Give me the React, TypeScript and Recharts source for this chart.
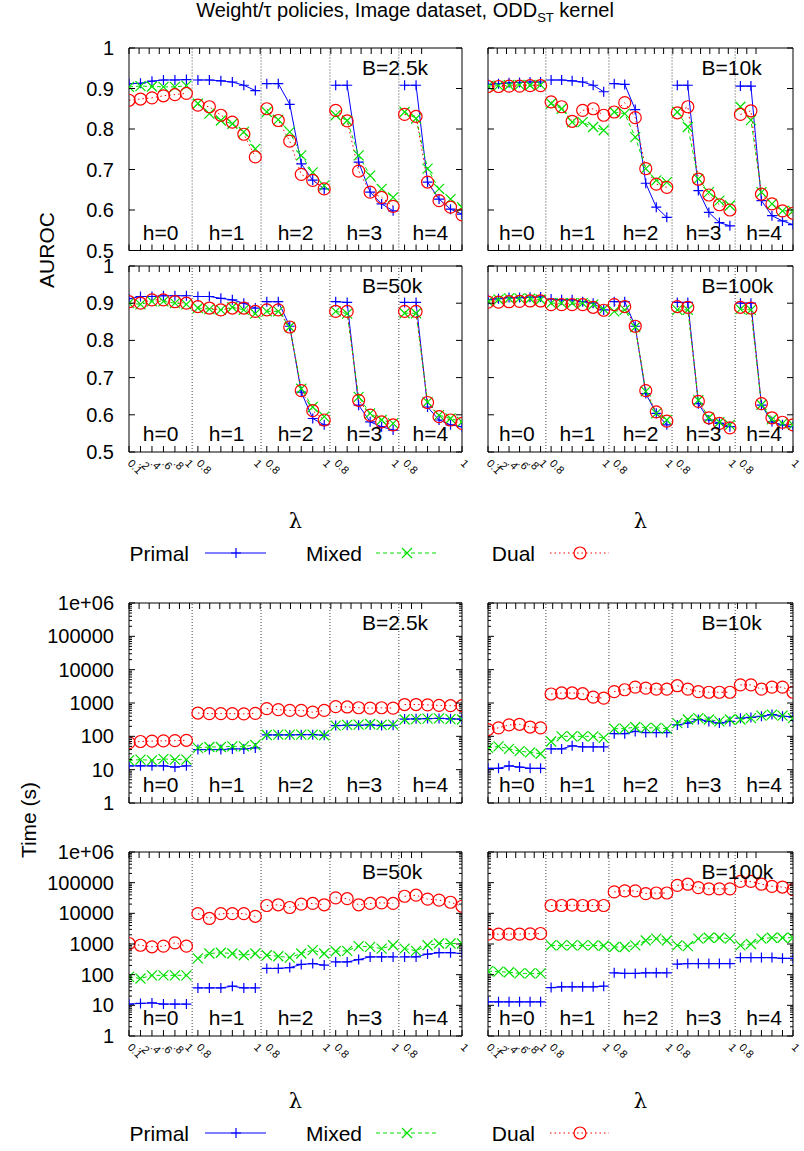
import { LineChart, Line, XAxis, YAxis, ReferenceLine, ReferenceArea } from 'recharts'

const FONT = '"Liberation Sans", Arial, Helvetica, sans-serif'

const groups = ['h=0', 'h=1', 'h=2', 'h=3', 'h=4']
const lambdaLabels = [
  '0.1', '.2', '.4', '.6', '.8', '1',
  '0.8', '', '', '', '', '1',
  '0.8', '', '', '', '', '1',
  '0.8', '', '', '', '', '1',
  '0.8', '', '', '', '', '1',
]
const aurocTicks = [0.5, 0.6, 0.7, 0.8, 0.9, 1]
const timeTicks = [1, 10, 100, 1000, 10000, 100000, 1000000]
const timeTickLabels = ['1', '10', '100', '1000', '10000', '100000', '1e+06']

// AUROC, B=2.5k
const auc2k5Primal = [0.912, 0.913, 0.918, 0.921, 0.921, 0.922, 0.921, 0.921, 0.919, 0.916, 0.908, 0.895, 0.912, 0.912, 0.861, 0.714, 0.674, 0.652, 0.908, 0.908, 0.718, 0.644, 0.615, 0.598, 0.908, 0.908, 0.669, 0.627, 0.602, 0.59]
const auc2k5Mixed = [0.904, 0.906, 0.905, 0.904, 0.904, 0.907, 0.863, 0.838, 0.821, 0.813, 0.793, 0.751, 0.842, 0.823, 0.793, 0.735, 0.693, 0.66, 0.834, 0.821, 0.735, 0.685, 0.652, 0.631, 0.842, 0.826, 0.702, 0.652, 0.627, 0.607]
const auc2k5Dual = [0.871, 0.874, 0.877, 0.882, 0.885, 0.888, 0.859, 0.855, 0.834, 0.817, 0.787, 0.731, 0.85, 0.821, 0.77, 0.688, 0.673, 0.652, 0.846, 0.82, 0.696, 0.644, 0.631, 0.609, 0.836, 0.831, 0.669, 0.623, 0.607, 0.588]
// AUROC, B=10k
const auc10kPrimal = [0.91, 0.912, 0.914, 0.915, 0.916, 0.916, 0.921, 0.921, 0.919, 0.916, 0.908, 0.892, 0.912, 0.91, 0.848, 0.666, 0.607, 0.582, 0.908, 0.908, 0.648, 0.594, 0.569, 0.561, 0.906, 0.906, 0.623, 0.586, 0.573, 0.564]
const auc10kMixed = [0.906, 0.907, 0.908, 0.909, 0.908, 0.909, 0.863, 0.85, 0.817, 0.817, 0.805, 0.797, 0.842, 0.838, 0.78, 0.702, 0.673, 0.669, 0.842, 0.805, 0.677, 0.644, 0.623, 0.611, 0.855, 0.822, 0.644, 0.615, 0.598, 0.598]
const auc10kDual = [0.905, 0.905, 0.906, 0.906, 0.907, 0.907, 0.867, 0.855, 0.819, 0.846, 0.85, 0.834, 0.842, 0.865, 0.828, 0.702, 0.664, 0.656, 0.84, 0.855, 0.676, 0.637, 0.613, 0.6, 0.836, 0.845, 0.639, 0.615, 0.598, 0.592]
// AUROC, B=50k
const auc50kPrimal = [0.912, 0.918, 0.918, 0.92, 0.92, 0.92, 0.918, 0.918, 0.913, 0.909, 0.9, 0.887, 0.904, 0.904, 0.838, 0.661, 0.59, 0.573, 0.904, 0.902, 0.626, 0.581, 0.568, 0.559, 0.902, 0.902, 0.621, 0.586, 0.573, 0.568]
const auc50kMixed = [0.9, 0.897, 0.905, 0.905, 0.9, 0.897, 0.887, 0.884, 0.882, 0.889, 0.882, 0.872, 0.878, 0.878, 0.836, 0.67, 0.621, 0.595, 0.878, 0.872, 0.648, 0.604, 0.586, 0.577, 0.873, 0.873, 0.634, 0.599, 0.59, 0.581]
const auc50kDual = [0.904, 0.9, 0.909, 0.909, 0.904, 0.9, 0.891, 0.887, 0.882, 0.887, 0.887, 0.878, 0.882, 0.882, 0.836, 0.665, 0.611, 0.586, 0.878, 0.878, 0.639, 0.599, 0.581, 0.573, 0.878, 0.878, 0.633, 0.595, 0.586, 0.577]
// AUROC, B=100k
const auc100kPrimal = [0.91, 0.912, 0.915, 0.915, 0.916, 0.917, 0.911, 0.909, 0.909, 0.904, 0.9, 0.882, 0.904, 0.904, 0.838, 0.657, 0.604, 0.573, 0.902, 0.902, 0.63, 0.586, 0.577, 0.568, 0.9, 0.9, 0.626, 0.581, 0.573, 0.568]
const auc100kMixed = [0.905, 0.91, 0.913, 0.913, 0.912, 0.91, 0.9, 0.9, 0.9, 0.9, 0.896, 0.884, 0.878, 0.882, 0.836, 0.663, 0.604, 0.586, 0.882, 0.882, 0.639, 0.592, 0.58, 0.573, 0.884, 0.882, 0.627, 0.588, 0.577, 0.573]
const auc100kDual = [0.903, 0.903, 0.904, 0.905, 0.906, 0.906, 0.896, 0.896, 0.896, 0.896, 0.889, 0.881, 0.896, 0.891, 0.838, 0.665, 0.608, 0.583, 0.891, 0.889, 0.636, 0.592, 0.577, 0.565, 0.889, 0.887, 0.63, 0.592, 0.58, 0.573]

// Time (s), B=2.5k
const time2k5Primal = [13, 13, 13, 13, 12, 13, 40, 40, 40, 42, 42, 45, 110, 110, 110, 112, 112, 108, 210, 215, 215, 220, 210, 215, 330, 335, 340, 345, 335, 330]
const time2k5Mixed = [19, 20, 19, 21, 20, 20, 45, 48, 48, 50, 50, 55, 110, 112, 112, 112, 112, 108, 210, 220, 225, 235, 220, 225, 320, 330, 340, 345, 330, 320]
const time2k5Dual = [65, 70, 72, 73, 74, 76, 500, 480, 480, 480, 470, 490, 680, 630, 600, 600, 530, 600, 780, 760, 720, 700, 720, 700, 900, 900, 880, 850, 830, 830]
// Time (s), B=10k
const time10kPrimal = [11, 11, 13, 12, 11, 11, 42, 42, 52, 48, 48, 48, 120, 120, 140, 130, 130, 130, 220, 250, 320, 280, 250, 280, 350, 370, 400, 450, 400, 380]
const time10kMixed = [45, 50, 42, 36, 33, 30, 70, 100, 100, 100, 100, 90, 170, 170, 190, 180, 180, 170, 250, 320, 350, 320, 280, 320, 320, 350, 420, 450, 420, 350]
const time10kDual = [160, 180, 220, 230, 190, 180, 1860, 2000, 2000, 1900, 1500, 1400, 2200, 2500, 3000, 2800, 2600, 2600, 3300, 2600, 2200, 2100, 2100, 2100, 3500, 3500, 2600, 3000, 3000, 2100]
// Time (s), B=50k
const time50kPrimal = [11, 11.5, 12, 11, 11, 11, 37, 37, 37, 42, 37, 37, 160, 160, 170, 215, 230, 205, 260, 260, 310, 380, 380, 380, 380, 380, 470, 520, 520, 490]
const time50kMixed = [85, 75, 95, 95, 95, 95, 340, 490, 520, 490, 430, 490, 430, 400, 360, 490, 630, 490, 580, 600, 850, 810, 710, 910, 710, 600, 910, 1040, 1040, 1040]
const time50kDual = [1040, 910, 810, 850, 1090, 850, 9800, 6800, 9800, 9800, 9800, 8000, 18000, 19000, 15500, 20000, 21000, 19000, 32000, 30000, 19000, 21000, 22000, 21000, 36000, 39000, 29000, 27000, 23000, 17000]
// Time (s), B=100k
const time100kPrimal = [13, 13, 13, 13, 13, 13, 38, 40, 40, 40, 40, 42, 115, 110, 110, 115, 115, 115, 220, 230, 230, 230, 230, 230, 360, 360, 360, 360, 340, 340]
const time100kMixed = [130, 125, 120, 110, 110, 110, 900, 900, 900, 900, 900, 880, 800, 800, 900, 1300, 1500, 1300, 900, 850, 1500, 1600, 1600, 1500, 900, 1000, 1500, 1600, 1600, 1600]
const time100kDual = [2100, 2100, 2100, 2100, 2150, 2200, 18000, 18000, 18500, 18000, 18000, 18000, 50000, 54000, 54000, 44000, 46000, 46000, 82000, 89000, 69000, 63000, 63000, 63000, 110000, 110000, 89000, 76000, 72000, 59000]

const PER_GROUP = 6
const LAST = groups.length * PER_GROUP - 1
const xTicks = lambdaLabels.map((_, i) => i)
const dividers = groups.slice(1).map((_, g) => (g + 1) * PER_GROUP - 0.5)
const minorTimeTicks = timeTicks.slice(0, -1).flatMap((d) => [2, 3, 4, 5, 6, 7, 8, 9].map((m) => d * m))

const BLUE = '#0000ff'
const GREEN = '#00e000'
const RED = '#ff0000'

type Row = { x: number; primal: number | null; mixed: number | null; dual: number | null }

function buildRows(p: number[], m: number[], d: number[]): Row[] {
  const rows: Row[] = []
  groups.forEach((_, g) => {
    for (let i = 0; i < PER_GROUP; i++) {
      const k = g * PER_GROUP + i
      rows.push({ x: k, primal: p[k], mixed: m[k], dual: d[k] })
    }
    // break the line between groups
    if (g < groups.length - 1) rows.push({ x: g * PER_GROUP + PER_GROUP - 0.5, primal: null, mixed: null, dual: null })
  })
  return rows
}

function isDecade(v: number) {
  const l = Math.log10(v)
  return Math.abs(l - Math.round(l)) < 1e-9
}

function plusDot(props: any) {
  const { cx, cy, value, index } = props
  if (value == null || cx == null || cy == null) return <g key={index} />
  return <path key={index} d={`M${cx - 5},${cy}h10M${cx},${cy - 5}v10`} stroke={BLUE} strokeWidth={1.2} fill="none" />
}

function crossDot(props: any) {
  const { cx, cy, value, index } = props
  if (value == null || cx == null || cy == null) return <g key={index} />
  return <path key={index} d={`M${cx - 5},${cy - 5}l10,10M${cx + 5},${cy - 5}l-10,10`} stroke={GREEN} strokeWidth={1.2} fill="none" />
}

function circleDot(props: any) {
  const { cx, cy, value, index } = props
  if (value == null || cx == null || cy == null) return <g key={index} />
  return <circle key={index} cx={cx} cy={cy} r={6} stroke={RED} strokeWidth={1.2} fill="none" />
}

function tickLen(v: number, log: boolean) {
  return !log || isDecade(v) ? 6 : 3
}

function LeftTick(props: any) {
  const { x, y, payload, log, show } = props
  const v = payload.value as number
  let label = ''
  if (show) {
    if (log) {
      const i = timeTicks.indexOf(v)
      label = i >= 0 ? timeTickLabels[i] : ''
    } else {
      label = String(v)
    }
  }
  return (
    <g>
      <line x1={x} y1={y} x2={x + tickLen(v, log)} y2={y} stroke="#000" />
      {label && (
        <text x={x - 15} y={y} textAnchor="end" dominantBaseline="central" fontSize={20} fontFamily={FONT} fill="#000">
          {label}
        </text>
      )}
    </g>
  )
}

function RightTick(props: any) {
  const { x, y, payload, log } = props
  return <line x1={x} y1={y} x2={x - tickLen(payload.value, log)} y2={y} stroke="#000" />
}

function BottomTick(props: any) {
  const { x, y, payload, show } = props
  const label = show ? lambdaLabels[payload.value] : ''
  return (
    <g>
      <line x1={x} y1={y} x2={x} y2={y - 6} stroke="#000" />
      {label && (
        <text x={x - 2} y={y + 12} transform={`rotate(45 ${x - 2} ${y + 12})`} textAnchor="start" fontSize={11} fontFamily={FONT} fill="#000">
          {label}
        </text>
      )}
    </g>
  )
}

function TopTick(props: any) {
  const { x, y } = props
  return <line x1={x} y1={y} x2={x} y2={y + 6} stroke="#000" />
}

type PanelProps = {
  L: number
  T: number
  W: number
  H: number
  rows: Row[]
  log: boolean
  yLabels: boolean
  xLabels: boolean
}

// plot rectangle is (L, T, W, H) in page pixels; the chart box is padded round it
function Panel({ L, T, W, H, rows, log, yLabels, xLabels }: PanelProps) {
  const LW = 100
  const RW = 6
  const TH = 6
  const BH = 50
  const PAD = 14
  const yTicks = log ? [...timeTicks, ...minorTimeTicks] : aurocTicks
  const yDomain = log ? [1, 1000000] : [0.5, 1]
  const scale = log ? 'log' : 'linear'
  return (
    <div style={{ position: 'absolute', left: L - LW, top: T - TH - PAD }}>
      <LineChart width={W + LW + RW + PAD} height={H + TH + BH + PAD} data={rows} margin={{ top: PAD, right: PAD, bottom: 0, left: 0 }}>
        <XAxis
          dataKey="x"
          type="number"
          domain={[0, LAST]}
          ticks={xTicks}
          interval={0}
          allowDataOverflow
          height={BH}
          axisLine={{ stroke: '#000' }}
          tickLine={false}
          tickSize={0}
          tickMargin={0}
          tick={(p: any) => <BottomTick {...p} show={xLabels} />}
        />
        <XAxis
          xAxisId="top"
          orientation="top"
          type="number"
          domain={[0, LAST]}
          ticks={xTicks}
          interval={0}
          allowDataOverflow
          height={TH}
          axisLine={{ stroke: '#000' }}
          tickLine={false}
          tickSize={0}
          tickMargin={0}
          tick={(p: any) => <TopTick {...p} />}
        />
        <YAxis
          type="number"
          scale={scale}
          domain={yDomain}
          ticks={yTicks}
          interval={0}
          allowDataOverflow
          width={LW}
          axisLine={{ stroke: '#000' }}
          tickLine={false}
          tickSize={0}
          tickMargin={0}
          tick={(p: any) => <LeftTick {...p} log={log} show={yLabels} />}
        />
        <YAxis
          yAxisId="right"
          orientation="right"
          type="number"
          scale={scale}
          domain={yDomain}
          ticks={yTicks}
          interval={0}
          allowDataOverflow
          width={RW}
          axisLine={{ stroke: '#000' }}
          tickLine={false}
          tickSize={0}
          tickMargin={0}
          tick={(p: any) => <RightTick {...p} log={log} />}
        />
        {dividers.map((d) => (
          <ReferenceLine key={d} x={d} stroke="#444" strokeDasharray="1 2" />
        ))}
        {groups.map((g, i) => (
          <ReferenceArea
            key={g}
            x1={Math.max(0, i * PER_GROUP - 0.5)}
            x2={Math.min(LAST, i * PER_GROUP + PER_GROUP - 0.5)}
            fillOpacity={0}
            strokeOpacity={0}
            label={{ value: g, position: 'insideBottom', offset: 11, fill: '#000', fontSize: 21, fontFamily: FONT }}
          />
        ))}
        <Line dataKey="primal" type="linear" stroke={BLUE} strokeWidth={1} dot={plusDot} activeDot={false} isAnimationActive={false} connectNulls={false} />
        <Line dataKey="mixed" type="linear" stroke={GREEN} strokeWidth={1} strokeDasharray="4 3" dot={crossDot} activeDot={false} isAnimationActive={false} connectNulls={false} />
        <Line dataKey="dual" type="linear" stroke={RED} strokeWidth={1} strokeDasharray="1.5 3" dot={circleDot} activeDot={false} isAnimationActive={false} connectNulls={false} />
      </LineChart>
    </div>
  )
}

const COL_L = { L: 129, W: 333 }
const COL_R = { L: 488, W: 305 }
const ROW_A1 = { T: 47.5, H: 202.5 }
const ROW_A2 = { T: 266, H: 186 }
const ROW_T1 = { T: 603, H: 200 }
const ROW_T2 = { T: 852, H: 184 }

const panels = [
  { name: 'B=2.5k', col: COL_L, row: ROW_A1, log: false, xl: false, rows: buildRows(auc2k5Primal, auc2k5Mixed, auc2k5Dual) },
  { name: 'B=10k', col: COL_R, row: ROW_A1, log: false, xl: false, rows: buildRows(auc10kPrimal, auc10kMixed, auc10kDual) },
  { name: 'B=50k', col: COL_L, row: ROW_A2, log: false, xl: true, rows: buildRows(auc50kPrimal, auc50kMixed, auc50kDual) },
  { name: 'B=100k', col: COL_R, row: ROW_A2, log: false, xl: true, rows: buildRows(auc100kPrimal, auc100kMixed, auc100kDual) },
  { name: 'B=2.5k', col: COL_L, row: ROW_T1, log: true, xl: false, rows: buildRows(time2k5Primal, time2k5Mixed, time2k5Dual) },
  { name: 'B=10k', col: COL_R, row: ROW_T1, log: true, xl: false, rows: buildRows(time10kPrimal, time10kMixed, time10kDual) },
  { name: 'B=50k', col: COL_L, row: ROW_T2, log: true, xl: true, rows: buildRows(time50kPrimal, time50kMixed, time50kDual) },
  { name: 'B=100k', col: COL_R, row: ROW_T2, log: true, xl: true, rows: buildRows(time100kPrimal, time100kMixed, time100kDual) },
]

function LegendRow({ y }: { y: number }) {
  return (
    <g fontFamily={FONT} fontSize={21} fill="#000">
      <text x={189} y={y} textAnchor="end" dominantBaseline="central">Primal</text>
      <line x1={205} y1={y} x2={266} y2={y} stroke={BLUE} />
      <path d={`M231,${y}h10M236,${y - 5}v10`} stroke={BLUE} strokeWidth={1.2} />
      <text x={362} y={y} textAnchor="end" dominantBaseline="central">Mixed</text>
      <line x1={376} y1={y} x2={438} y2={y} stroke={GREEN} strokeDasharray="4 3" />
      <path d={`M402,${y - 5}l10,10M412,${y - 5}l-10,10`} stroke={GREEN} strokeWidth={1.2} />
      <text x={535} y={y} textAnchor="end" dominantBaseline="central">Dual</text>
      <line x1={550} y1={y} x2={609} y2={y} stroke={RED} strokeDasharray="1.5 3" />
      <circle cx={580} cy={y} r={6} stroke={RED} strokeWidth={1.2} fill="none" />
    </g>
  )
}

export default function App() {
  return (
    <div style={{ position: 'absolute', left: 0, top: 0, width: 804, height: 1151, background: '#fff', fontFamily: FONT }}>
      {panels.map((p, i) => (
        <Panel key={i} L={p.col.L} T={p.row.T} W={p.col.W} H={p.row.H} rows={p.rows} log={p.log} yLabels={p.col === COL_L} xLabels={p.xl} />
      ))}
      <svg width={804} height={1151} style={{ position: 'absolute', left: 0, top: 0, pointerEvents: 'none' }}>
        <text x={405} y={17} textAnchor="middle" fontSize={20} fontFamily={FONT} fill="#000">
          Weight/τ policies, Image dataset, ODD
          <tspan fontSize={13} dy={5}>ST</tspan>
          <tspan dy={-5}> kernel</tspan>
        </text>
        <text x={46} y={250} transform="rotate(-90 46 250)" textAnchor="middle" dominantBaseline="central" fontSize={21} fontFamily={FONT}>AUROC</text>
        <text x={28} y={820} transform="rotate(-90 28 820)" textAnchor="middle" dominantBaseline="central" fontSize={21} fontFamily={FONT}>Time (s)</text>
        {[521, 1101].map((y) =>
          [COL_L, COL_R].map((c) => (
            <text key={`${y}-${c.L}`} x={c.L + c.W / 2} y={y} textAnchor="middle" dominantBaseline="central" fontSize={21} fontFamily="DejaVu Serif, serif">λ</text>
          ))
        )}
        {panels.map((p, i) => (
          <text key={i} x={p.col.L + 0.7 * p.col.W} y={p.row.T + 27} fontSize={21} fontFamily={FONT}>{p.name}</text>
        ))}
        <LegendRow y={553} />
        <LegendRow y={1133} />
      </svg>
    </div>
  )
}
